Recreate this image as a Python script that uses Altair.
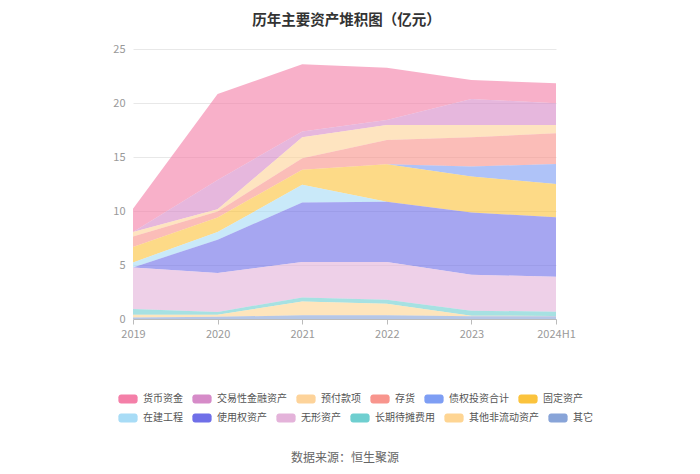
import altair as alt
import pandas as pd

years = ["2019", "2020", "2021", "2022", "2023", "2024H1"]

# legend order (top of stack first)
series = ["货币资金", "交易性金融资产", "预付款项", "存货", "债权投资合计", "固定资产",
          "在建工程", "使用权资产", "无形资产", "长期待摊费用", "其他非流动资产", "其它"]

colors = ["#f47fa8", "#d68bc8", "#fdd39a", "#f8958d", "#7e9ef4", "#fbc33d",
          "#a8dcf6", "#6f6fe8", "#e4b3da", "#6fcfd0", "#fed593", "#88a4d8"]

# values in 亿元
v_cash     = [2.15, 7.96, 6.23, 4.84, 1.75, 1.85]
v_trading  = [0.00, 2.71, 0.52, 0.46, 2.41, 2.00]
v_prepaid  = [0.41, 0.21, 1.94, 1.39, 1.14, 0.77]
v_invent   = [0.98, 0.56, 1.08, 2.25, 2.71, 2.84]
v_debt     = [0.00, 0.00, 0.00, 0.00, 0.93, 1.85]
v_fixed    = [1.42, 1.35, 1.39, 3.48, 3.33, 3.08]
v_cip      = [0.46, 0.71, 1.63, 0.00, 0.00, 0.00]
v_rou      = [0.00, 3.09, 5.52, 5.58, 5.76, 5.52]
v_intang   = [3.86, 3.60, 3.27, 3.48, 3.33, 3.23]
v_ltprep   = [0.52, 0.25, 0.37, 0.37, 0.46, 0.41]
v_othernc  = [0.25, 0.20, 1.28, 1.07, 0.06, 0.02]
v_other    = [0.15, 0.20, 0.35, 0.35, 0.25, 0.25]

values = [v_cash, v_trading, v_prepaid, v_invent, v_debt, v_fixed,
          v_cip, v_rou, v_intang, v_ltprep, v_othernc, v_other]

rows = []
for i, (name, vals) in enumerate(zip(series, values)):
    for y, v in zip(years, vals):
        rows.append({"year": y, "item": name, "value": v, "rank": len(series) - i})
df = pd.DataFrame(rows)

FONT = "Noto Sans CJK SC"
ROUNDED = ("M-0.72,-0.46 L0.72,-0.46 A0.28,0.28 0 0 1 1,-0.18 L1,0.18 "
           "A0.28,0.28 0 0 1 0.72,0.46 L-0.72,0.46 A0.28,0.28 0 0 1 -1,0.18 "
           "L-1,-0.18 A0.28,0.28 0 0 1 -0.72,-0.46 Z")

x_enc = alt.X("year:O", sort=years,
              scale=alt.Scale(type="point", padding=0),
              axis=alt.Axis(title="数据来源：恒生聚源", titleFontSize=12, titleFontWeight="normal",
                            titleColor="#666", titlePadding=113, titleFont=FONT,
                            labelAngle=0, labelColor="#999", labelFontSize=11, labelFont=FONT,
                            domainColor="#bbb", tickColor="#bbb", tickSize=5,
                            labelPadding=4, grid=False))
y_axis = alt.Axis(title=None, values=[0, 5, 10, 15, 20, 25], labelColor="#999",
                  labelFontSize=11, labelFont=FONT, domain=False, ticks=False,
                  gridColor="#e8e8e8", labelPadding=8)

areas = alt.Chart(df).mark_area(opacity=0.62, interpolate="linear").encode(
    x=x_enc,
    y=alt.Y("value:Q", stack="zero", scale=alt.Scale(domain=[0, 25], nice=False), axis=y_axis),
    color=alt.Color("item:N", sort=series,
                    scale=alt.Scale(domain=series, range=colors), legend=None),
    order=alt.Order("rank:Q", sort="ascending"),
)


def legend_row(names, cols, ly):
    sub = df[df["item"].isin(names)]
    return alt.Chart(sub).mark_point(opacity=0, filled=True).encode(
        x=alt.X("year:O", sort=years),
        y=alt.Y("value:Q"),
        color=alt.Color("item:N", sort=names,
                        scale=alt.Scale(domain=names, range=cols),
                        legend=alt.Legend(title=None, orient="none", legendX=-15, legendY=ly,
                                          direction="horizontal", columns=6,
                                          symbolType=ROUNDED,
                                          symbolSize=370, symbolOpacity=1, symbolStrokeWidth=0,
                                          labelFontSize=10, labelFont=FONT, labelColor="#555",
                                          labelOffset=5, columnPadding=9)),
    )


row1 = legend_row(series[:6], colors[:6], 340)
row2 = legend_row(series[6:], colors[6:], 359)

chart = alt.layer(areas, row1, row2).resolve_scale(color="independent").properties(
    width=423, height=270,
    title=alt.TitleParams("历年主要资产堆积图（亿元）", fontSize=14.5, fontWeight="bold",
                          font=FONT, color="#333", anchor="middle", frame="group",
                          offset=15, dx=2),
    autosize=alt.AutoSizeParams(type="none"),
    padding={"left": 125, "top": 41, "right": 136, "bottom": 147},
).configure_view(stroke=None)

chart.save("out.html", embed_options={"renderer": "svg", "actions": False})
